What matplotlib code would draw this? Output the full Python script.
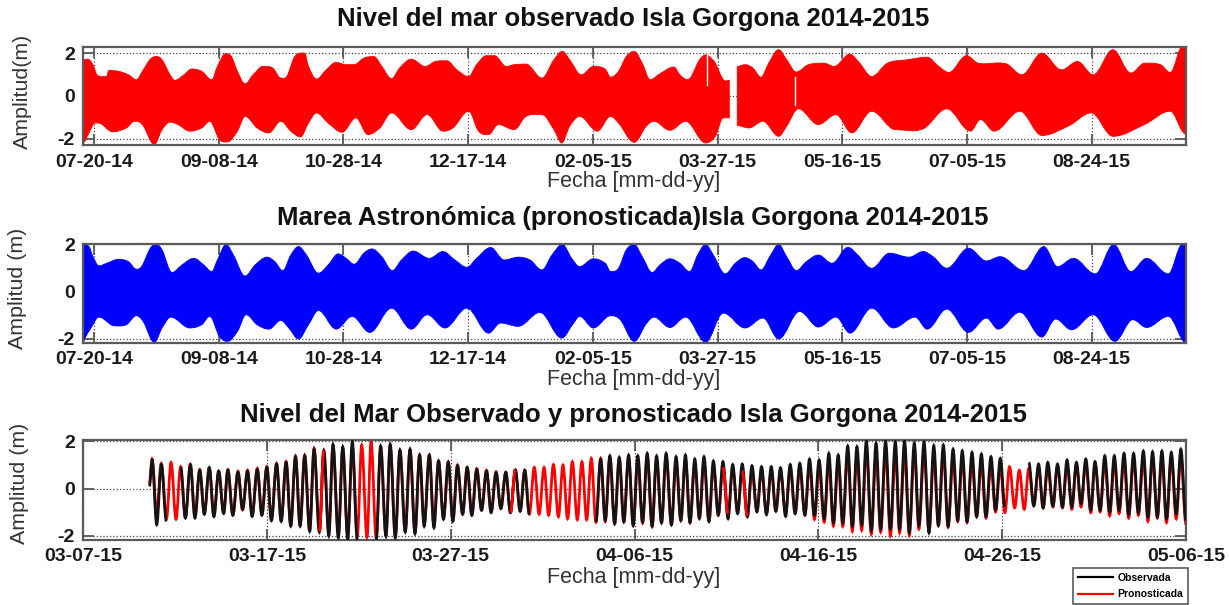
import numpy as np
import matplotlib
matplotlib.use('Agg')
import matplotlib.pyplot as plt
from matplotlib.lines import Line2D
from matplotlib.patches import PathPatch
from matplotlib.path import Path

plt.rcParams['font.family'] = ['Liberation Sans', 'DejaVu Sans']

obs_top_days = [-4.4, -2.5, -0.4, 1.2, 5.1, 5.9, 9.9, 13.8, 17, 19.4, 22.6, 25, 27.3, 30.5, 32.4, 36.1, 39.2, 43.2,
                47.2, 49.5, 52.7, 55.1, 57.5, 60.6, 63.8, 67.8, 71.7, 74.9, 77.3, 80.5, 84.4, 86, 89.2, 93.1, 97.1,
                101.1, 104.3, 108.2, 112.2, 115.4, 119.3, 122.5, 127.2, 132.8, 136.8, 141.5, 145.5, 150.2, 153.4,
                157.4, 160.6, 165.3, 168.5, 173.2, 179.6, 184.4, 187.8, 190.7, 195.4, 200.2, 204.9, 207.1, 210.3,
                213.4, 216.6, 219.8, 223, 226.9, 232.5, 234.9, 238, 242.8, 245.2, 246.7, 249.1, 252.3,
                254.7,
                257.9, 261, 264.2, 267.4, 270.5, 274.5, 277.7, 281.6, 286.4, 292.7, 296.7, 303, 307, 311.8, 318.1,
                326.1, 334, 338.7, 342.7, 349.8, 354.6, 365.7, 372, 380, 387.9, 394.3, 400.6, 408.5, 415.7, 421.2,
                427.6, 431.5, 436.3, 438.3]
obs_top = [1.69, 1.72, 1.46, 0.99, 0.91, 1.19, 1.15, 0.99, 0.76, 1.15, 1.72, 1.84, 1.69, 0.99, 0.73, 0.99, 1.26, 1.15,
           0.76, 1.38, 1.97, 1.84, 1.15, 0.57, 0.99, 1.38, 1.30, 0.84, 0.91, 1.84, 2.0, 1.38, 0.79, 1.22, 1.57,
           1.46, 1.46, 1.77, 1.84, 1.38, 0.81, 1.3, 1.72, 1.38, 1.61, 1.64, 1.22, 0.91, 1.46,
           1.88, 1.88, 1.38, 1.46, 1.49, 0.84, 1.69, 2.08, 1.69, 0.99, 1.38, 1.26, 0.88, 1.15,
           1.84, 2.08, 1.53, 0.76, 1.04, 1.35, 0.99, 0.76, 1.69, 1.92, 1.84, 1.53, 0.76,
           0.73,
           1.38, 1.46, 1.3, 0.88, 1.53, 2.16, 1.69, 1.12, 1.46, 1.53, 1.38, 1.95, 1.53, 0.91, 1.53,
           1.69, 1.81, 1.38, 1.1, 1.88, 1.53, 1.5, 0.99, 2.0, 1.22, 1.61, 0.99, 2.16, 1.07, 1.53,
           1.46, 1.1, 2.3, 2.3]
obs_low_days = [-4.4, -2, 0.4, 2.7, 7.5, 13, 16.2, 19.4, 24.2, 27.3, 30.5, 33.7, 38.4, 43.2, 46.4, 50.3, 53.5, 57.5,
                60.6, 65.4, 70.1, 74.9, 78.9, 82.8, 86, 89.2, 93.9, 99.5, 105, 109.8, 114.6, 119.3, 127.2, 133.6,
                139.9, 143.9, 150.2, 154.2, 158.2, 162.1, 168.5, 173.2, 179.6, 184.4, 187.5, 190.7, 194.7, 201.8,
                207.1, 210.3, 216.6, 221.4, 224.5, 230.9, 237.2, 245.2, 249.1, 252.3, 254.7,
                257.9, 262.6, 268.2, 274.5, 277.7, 282.4, 290.4, 297.5, 303.8, 311.8, 321.3, 332.4, 341.9, 351.4,
                355.4, 360.9, 371.2, 380, 391, 399.8, 408.5, 421.2, 431.5, 436.3, 438.3]
obs_low = [-2.19, -1.72, -1.26, -1.29, -1.67, -1.49, -1.18, -1.33, -2.26, -1.57, -1.22, -1.33, -1.64, -1.49, -1.18,
           -2.03, -2.14, -1.64, -0.95, -1.49, -1.72, -1.18, -1.64, -1.91, -1.26, -0.79, -1.26, -1.69, -1.02, -1.8,
           -1.49, -0.79, -1.57, -0.87, -1.64, -1.49, -0.71, -1.64, -1.8, -1.33, -1.57, -0.95, -0.87, -1.57, -2.19,
           -1.41, -0.95, -1.64,
           -0.95, -1.26, -2.16, -1.41, -1.18, -1.6, -1.18, -2.19, -1.88, -1.02, -1.02,
           -1.38, -1.49, -1.18, -1.88, -1.41, -0.6, -1.33, -0.87, -1.72, -0.71, -1.57, -1.53, -0.6, -1.64,
           -1.1, -1.64, -0.71, -1.84, -1.38, -0.79, -1.88, -1.33, -0.71, -1.64, -1.8]
obs_gap_day = 256
# short dropouts: day, from, to
obs_slits = [(245.6, 1.95, 0.52), (280.9, 0.88, -0.4)]

# panel 2, predicted tide envelope
ast_top_days = [-4.4, -2, -0.4, 2, 5.1, 9.9, 13.8, 17, 19.1, 22.6, 25, 27.3, 31.3, 35.3, 40, 44, 47.2, 49.5, 53, 55.9,
                60.6, 64.6, 69.4, 72.5, 75.7, 78.9, 82, 85.2, 90, 93.9, 97.9, 101.1, 104.3, 108.2, 111.4, 115.4,
                119.6, 123.3, 128, 134.4, 139.9, 144.7, 149.5, 153.4, 159, 164.5, 170.1, 174.8, 179.6, 183.6, 187.8,
                191.5, 194.7, 200.2, 205, 207.1, 210.3, 213.4, 216.6, 219.8, 223.8, 226.9, 230.9, 234.9, 238.8, 242,
                245.2, 248.3, 253.1, 257.1, 261, 264.2, 267.4, 271.3, 274.5, 277.7, 281.6, 285.6, 290.4, 295.9,
                302.3, 306.2, 311.8, 318.9, 326.8, 332.4, 336.4, 341.9, 350.6, 357.8, 363.3, 372.8, 380.8, 386.3,
                392.7, 401.4, 408.8, 415.7, 422, 430.7, 436.3, 438.3]
ast_top = [2.0, 1.91, 1.48, 1.09, 1.2, 1.37, 1.27, 0.95, 1.06, 1.84, 2.0, 1.77, 0.81, 1.13, 1.41, 1.13, 0.85, 1.34, 2.0,
           1.55, 0.66, 1.13, 1.46, 1.27, 0.89, 1.55, 1.91, 1.55, 0.78, 1.13, 1.6, 1.41, 1.16, 1.63, 1.81, 1.48,
           0.89, 1.34, 1.72, 1.41, 1.7, 1.34, 1.03, 1.41, 1.87, 1.34, 1.46, 1.34, 0.92, 1.55, 2.0,
           1.41, 1.06, 1.39, 1.2, 0.85, 0.99, 1.77, 2.0, 1.48, 0.81, 1.13, 1.39, 1.2, 0.85, 1.55,
           2.0, 1.55, 0.75, 1.2, 1.44, 1.27, 0.92, 1.55, 2.0, 1.48, 0.89, 1.27, 1.55, 1.2,
           1.88, 1.55, 0.99, 1.63, 1.46, 1.7, 1.48, 0.99, 1.84, 1.3, 1.48, 0.89, 1.91, 1.06,
           1.41, 0.75, 2.0, 0.85, 1.41, 0.75, 2.0, 2.0]
ast_low_days = [-4.4, -3.6, -1.2, 2, 8.3, 13, 17, 19.7, 24.2, 27.3, 30.8, 38.4, 43.2, 46.4, 50.3, 53.5, 57.5, 61, 65.4,
                70.1, 74.9, 78.1, 82, 86, 90, 97.1, 103.5, 110.6, 119.3, 127.2, 133.6, 140.7, 149.5, 158.2, 163,
                170.1, 178.8, 187.5, 192.3, 194.7, 200.2, 207.1, 211, 216.6, 221.4, 224.5, 230.9, 237.2, 245.2,
                252.3, 261, 268.2, 274.5, 282.9, 290.4, 297.5, 303.1, 311.8, 320.5, 329.2, 334, 341.9, 350.6, 357.8,
                362.5, 371.2, 380, 385.5, 391.9, 400.6, 409.3, 416.5, 422, 430.7, 437.9, 438.3]
ast_low = [-2.19, -1.98, -1.55, -1.09, -1.46, -1.41, -1.03, -1.27, -2.16, -1.55, -1.09, -1.55, -1.41, -1.06, -1.91,
           -2.12, -1.7, -0.99, -1.41, -1.6, -1.23, -1.55, -2.02, -1.41, -0.81, -1.6, -1.06, -1.74, -0.71, -1.6,
           -0.99, -1.55, -0.71, -1.77, -1.34, -1.48, -0.89, -1.98, -1.34, -1.06, -1.55, -1.03, -1.2, -2.12, -1.37,
           -1.09, -1.53, -1.09, -2.16, -0.92, -1.55, -1.13, -2.02, -0.85, -1.51, -1.09, -1.77, -0.71, -1.55, -1.09,
           -1.6, -0.75, -1.74, -1.13, -1.6, -0.88, -1.94, -1.17, -1.63, -0.99, -2.12, -1.2, -1.53, -1.06, -2.19,
           -2.19]

# panel 3: high and low waters (days after 03-07-15, metres)
ext_day = [3.61, 3.76, 4.01, 4.26, 4.54, 4.79, 5.06, 5.31, 5.57, 5.84, 6.09, 6.35, 6.60, 6.87, 7.12, 7.38, 7.65, 7.88,
           8.15, 8.43, 8.68, 8.95, 9.20, 9.48, 9.73, 10.00, 10.25, 10.53, 10.78, 11.05, 11.30, 11.56, 11.81, 12.06,
           12.33, 12.57, 12.86, 13.10, 13.37, 13.60, 13.89, 14.13, 14.40, 14.65, 14.92, 15.16, 15.45, 15.67, 15.95,
           16.19, 16.48, 16.71, 16.99, 17.24, 17.53, 17.79, 18.06, 18.31, 18.56, 18.84, 19.09, 19.34, 19.61, 19.87,
           20.12, 20.37, 20.65, 20.90, 21.15, 21.42, 21.68, 21.95, 22.20, 22.47, 22.73, 23.00, 23.25, 23.52, 23.78,
           24.03, 24.28, 24.55, 24.81, 25.08, 25.33, 25.59, 25.86, 26.11, 26.36, 26.62, 26.89, 27.14, 27.40, 27.65,
           27.90, 28.16, 28.41, 28.66, 28.92, 29.17, 29.42, 29.68, 29.93, 30.18, 30.44, 30.69, 30.96, 31.20, 31.47,
           31.72, 32.01, 32.26, 32.52, 32.77, 33.02, 33.28, 33.53, 33.78, 34.05, 34.29, 34.56, 34.81, 35.09, 35.34,
           35.61, 35.86, 36.14, 36.39, 36.66, 36.91, 37.18, 37.44, 37.69, 37.94, 38.22, 38.47, 38.74, 38.99, 39.27,
           39.52, 39.79, 40.04, 40.32, 40.57, 40.82, 41.08, 41.33, 41.60, 41.85, 42.10, 42.36, 42.61, 42.88, 43.14,
           43.39, 43.66, 43.92, 44.19, 44.42, 44.69, 44.95, 45.22, 45.47, 45.75, 46.02, 46.28, 46.53, 46.80, 47.06,
           47.33, 47.58, 47.83, 48.09, 48.36, 48.61, 48.87, 49.12, 49.39, 49.64, 49.90, 50.15, 50.40, 50.68, 50.93,
           51.20, 51.45, 51.72, 51.98, 52.23, 52.48, 52.76, 53.01, 53.28, 53.53, 53.79, 54.04, 54.29, 54.55, 54.82,
           55.05, 55.33, 55.58, 55.85, 56.10, 56.36, 56.63, 56.88, 57.15, 57.41, 57.68, 57.93, 58.18, 58.44, 58.69,
           58.94, 59.20, 59.47, 59.72, 60.00]
nan = float('nan')
ext_obs = [0.1, 1.21, -1.52, 1.02, -1.38, nan, nan, 0.90, -1.24, 1.0, -1.24, 0.78, -1.08, 0.90, -1.18, 0.74, -1.05, 0.78,
           -1.12, 0.69, -0.87, 0.74, -1.17, 0.81, -1.12, 0.90, -1.35, 1.04, -1.38, 1.11, -1.58, 1.35, -1.58, 1.38,
           -1.80, 1.66, -1.83, 1.59, -2.0, 1.87, -2.07, 1.77, -2.13, 1.99, -2.16, nan, nan, nan, -2.16,
           1.80, -2.01, 1.87, -2.08, 1.63, -1.83, 1.66, -1.90, 1.42, -1.59, 1.42, -1.65, 1.17, -1.29, 1.11,
           -1.38, 0.97, -1.08, 0.90, -1.12, 0.81, -0.91, 0.74, -1.01, 0.67, -0.84, 0.69, -1.01, 0.78, -0.95,
           0.78, -1.08, nan, nan, nan, nan, nan, nan, nan, nan, nan, nan, nan, nan, nan,
           -1.41, 1.24, -1.34, 1.39, -1.48, 1.32, -1.38, 1.42, -1.55, 1.39, -1.41, 1.49, -1.58, 1.38, -1.43,
           1.49, -1.52, 1.35, -1.34, 1.42, -1.43, 1.25, -1.24, 1.35, -1.38, 1.17, -1.12, 1.14, -1.27, 1.02,
           -1.05, 1.04, -1.19, 0.97, -0.98, 0.93, -1.10, 0.93, -0.95, 0.88, -1.17, 1.02, -1.05, 1.07, -1.12,
           1.25, -1.12, 1.21, -1.27, 1.49, -1.43, 1.42, -1.43, 1.80, -1.58, 1.77, -1.52, 2.01, -1.76, 1.92,
           -1.69, 2.01, -1.69, 1.99, -1.69, 2.01, -1.83, 1.92, -1.55, 1.96, -1.86, 1.82, -1.55, 1.84, -1.58,
           1.67, -1.34, 1.60, -1.38, 1.53, -1.17, 1.46, -1.17, 1.35, -0.91, 1.28, -0.77, nan, nan, nan,
           nan, 1.11, -0.73, 1.04, -0.81, 1.11, -0.73, 1.04, -0.77, 1.21, -0.77, 1.11, -0.63, 1.25, -0.91,
           1.14, -0.91, 1.39, -0.98, 1.39, -0.91, 1.49, -1.10, 1.49, -1.01, 1.59, -1.19, 1.56, -1.19, 1.59,
           -1.27, 1.53, -1.05, 1.67, -1.34]
ext_pred = [0.2, 1.25, -1.05, 1.07, -1.27, 1.11, -1.29, 0.93, -1.22, 1.04, -1.17, 0.81, -1.05, 0.86, -1.14, 0.74, -1.02, 0.81,
            -1.12, 0.74, -0.9, 0.78, -1.15, 0.86, -1.10, 0.93, -1.3, 1.07, -1.35, 1.14, -1.55, 1.38, -1.55, 1.42,
            -1.76, 1.70, -1.80, 1.62, -1.85, 1.80, -1.95, 1.7, -1.98, 1.73, -2.0, 1.84, -2.06, 1.99, -2.1,
            1.75, -1.98, 1.85, -2.0, 1.62, -1.8, 1.66, -1.85, 1.42, -1.5, 1.42, -1.55, 1.17, -1.25, 1.14,
            -1.33, 1.0, -1.08, 0.9, -1.12, 0.85, -0.91, 0.78, -1.0, 0.72, -0.84, 0.7, -1.01, 0.8, -0.95,
            0.78, -1.08, 0.90, -1.08, 0.90, -1.12, 1.02, -1.19, 1.0, -1.27, 1.14, -1.31, 1.14, -1.31, 1.28,
            -1.41, 1.28, -1.38, 1.33, -1.48, 1.28, -1.41, 1.32, -1.55, 1.25, -1.45, 1.38, -1.6, 1.25, -1.45,
            1.36, -1.52, 1.15, -1.34, 1.2, -1.43, 1.05, -1.27, 1.1, -1.38, 0.95, -1.12, 0.9, -1.05, 0.85,
            -1.0, 0.75, -1.15, 0.75, -0.95, 0.75, -1.02, 0.75, -0.95, 0.72, -1.01, 0.85, -1.05, 0.85, -1.1,
            0.98, -1.3, 0.95, -1.41, 1.15, -1.58, 1.12, -1.59, 1.45, -1.80, 1.42, -1.76, 1.69, -1.92, 1.4,
            -1.83, 1.55, -1.99, 1.53, -1.87, 1.49, -1.97, 1.63, -1.7, 1.56, -1.83, 1.42, -1.55, 1.49, -1.62,
            1.28, -1.38, 1.25, -1.43, 1.14, -1.19, 1.07, -1.24, 1.0, -0.98, 0.93, -1.01, 0.93, -0.81, 0.78,
            -0.87, 0.86, -0.7, 0.86, -0.81, 0.86, -0.77, 0.93, -0.81, 1.0, -0.87, 1.02, -0.77, 1.07, -1.01,
            1.07, -0.98, 1.14, -1.15, 1.14, -1.05, 1.21, -1.24, 1.21, -1.12, 1.28, -1.38, 1.28, -1.24, 1.28,
            -1.43, 1.28, -1.27, 1.35, -1.52]
# flanks where only the prediction shows
pred_only_flanks = [(12.86, 13.10), (23.25, 23.52), (34.81, 35.09), (35.86, 36.14)]

long_ticks = [0, 50, 100, 150, 200, 250, 300, 350, 400]
long_labels = ['07-20-14', '09-08-14', '10-28-14', '12-17-14', '02-05-15', '03-27-15', '05-16-15', '07-05-15', '08-24-15']
short_ticks = [0, 10, 20, 30, 40, 50, 60]
short_labels = ['03-07-15', '03-17-15', '03-27-15', '04-06-15', '04-16-15', '04-26-15', '05-06-15']
y_ticks = [-2, 0, 2]

GREY = '#5a5a5a'
W, H = 1229, 605


def make_axes(fig, top, bottom, ticks, labels, xlim, ylim, title, ylabel, title_y, xlabel_y, ylabel_x, ylabel_y):
    ax = fig.add_axes([83/W, 1 - bottom/H, (1186 - 83)/W, (bottom - top)/H])
    ax.set_xlim(*xlim)
    ax.set_ylim(*ylim)
    ax.set_xticks(ticks)
    ax.set_xticklabels(labels, fontweight='bold', fontsize=14, color='#1a1a1a')
    ax.set_yticks(y_ticks)
    ax.set_yticklabels(['-2', '0', '2'], fontweight='bold', fontsize=14, color='#1a1a1a')
    ax.tick_params(direction='in', length=8, width=1.3, color=GREY, top=True, right=True, pad=6)
    ax.grid(True, linestyle=':', color='#444444', linewidth=0.9)
    ax.set_axisbelow(True)
    for s in ax.spines.values():
        s.set_color(GREY)
        s.set_linewidth(1.6)
    fig.text(633/W, 1 - title_y/H, title, fontsize=18.5, fontweight='bold', ha='center', va='center', color='#111111')
    fig.text(634/W, 1 - xlabel_y/H, 'Fecha [mm-dd-yy]', fontsize=15.5, ha='center', va='center', color='#333333')
    fig.text(ylabel_x/W, 1 - ylabel_y/H, ylabel, fontsize=15.4, rotation=90, ha='center', va='center', color='#333333')
    return ax


def curve_verts(x, y):
    # cubic pieces through the read points, flat at each turning point
    slope = np.zeros(len(x))
    for i in range(1, len(x) - 1):
        if (y[i] - y[i-1])*(y[i+1] - y[i]) > 0:
            slope[i] = (y[i+1] - y[i-1])/(x[i+1] - x[i-1])
    verts = []
    for i in range(len(x) - 1):
        dx = x[i+1] - x[i]
        verts += [(x[i] + 0.36*dx, y[i] + slope[i]*0.36*dx),
                  (x[i+1] - 0.36*dx, y[i+1] - slope[i+1]*0.36*dx),
                  (x[i+1], y[i+1])]
    return verts


def fill_band(ax, top_days, top, low_days, low, colour):
    v = [(top_days[0], top[0])] + curve_verts(top_days, top)
    c = [Path.MOVETO] + [Path.CURVE4]*(len(v) - 1)
    lv = [(low_days[-1], low[-1])] + curve_verts(low_days[::-1], low[::-1])
    v += lv + [lv[0]]
    c += [Path.LINETO] + [Path.CURVE4]*(len(lv) - 1) + [Path.CLOSEPOLY]
    ax.add_patch(PathPatch(Path(v, c), facecolor=colour, edgecolor=colour, lw=0.6, zorder=2))


def draw_curve(ax, x, y, colour, lw, zorder):
    good = ~np.isnan(y)
    start = 0
    while start < len(x):
        if not good[start]:
            start += 1
            continue
        end = start
        while end + 1 < len(x) and good[end + 1]:
            end += 1
        if end > start:
            v = [(x[start], y[start])] + curve_verts(x[start:end+1], y[start:end+1])
            c = [Path.MOVETO] + [Path.CURVE4]*(len(v) - 1)
            ax.add_patch(PathPatch(Path(v, c), fill=False, edgecolor=colour, lw=lw, zorder=zorder))
        start = end + 1


fig = plt.figure(figsize=(W/100, H/100), dpi=100)

# observed
ax1 = make_axes(fig, 46.7, 145.3, long_ticks, long_labels, (-4.4, 437.8), (-2.3, 2.3),
                'Nivel del mar observado Isla Gorgona 2014-2015', 'Amplitud(m)', 19, 182, 22, 91.5)
td, tv = np.array(obs_top_days), np.array(obs_top)
ld, lv = np.array(obs_low_days), np.array(obs_low)
fill_band(ax1, td[td < obs_gap_day], tv[td < obs_gap_day], ld[ld < obs_gap_day], lv[ld < obs_gap_day], '#ff0000')
fill_band(ax1, td[td > obs_gap_day], tv[td > obs_gap_day], ld[ld > obs_gap_day], lv[ld > obs_gap_day], '#ff0000')
for day, a, b in obs_slits:
    ax1.plot([day, day], [a, b], color='white', lw=1, zorder=3)

# predicted
ax2 = make_axes(fig, 244, 343, long_ticks, long_labels, (-4.4, 437.8), (-2.19, 2.02),
                'Marea Astronómica (pronosticada)Isla Gorgona 2014-2015', 'Amplitud (m)', 218, 380, 18, 288)
fill_band(ax2, np.array(ast_top_days), np.array(ast_top), np.array(ast_low_days), np.array(ast_low), '#0000ff')

# both, two months
ax3 = make_axes(fig, 440, 539.5, short_ticks, short_labels, (0, 60), (-2.15, 2.06),
                'Nivel del Mar Observado y pronosticado Isla Gorgona 2014-2015', 'Amplitud (m)', 415, 577, 20, 483)
days = np.array(ext_day)
pred = np.array(ext_pred)
obs = np.array(ext_obs)
draw_curve(ax3, days, pred, '#ff0000', 2.0, 2)
draw_curve(ax3, days, obs, '#141414', 2.0, 3)
for lo, hi in pred_only_flanks:
    m = (days >= lo) & (days <= hi)
    draw_curve(ax3, days[m], pred[m], '#ff0000', 2.0, 4)

handles = [Line2D([], [], color='black', lw=1.6), Line2D([], [], color='#ff0000', lw=1.6)]
leg = fig.legend(handles, ['Observada', 'Pronosticada'], loc='lower right', bbox_to_anchor=(1188/W, 1 - 604/H),
                 bbox_transform=fig.transFigure, prop={'size': 7.5, 'weight': 'bold'}, fancybox=False, framealpha=1,
                 edgecolor=GREY, borderaxespad=0, handlelength=3.4, handletextpad=0.4, labelspacing=0.6, borderpad=0.45)
leg.get_frame().set_linewidth(1.2)

fig.savefig('out.png', dpi=100)
